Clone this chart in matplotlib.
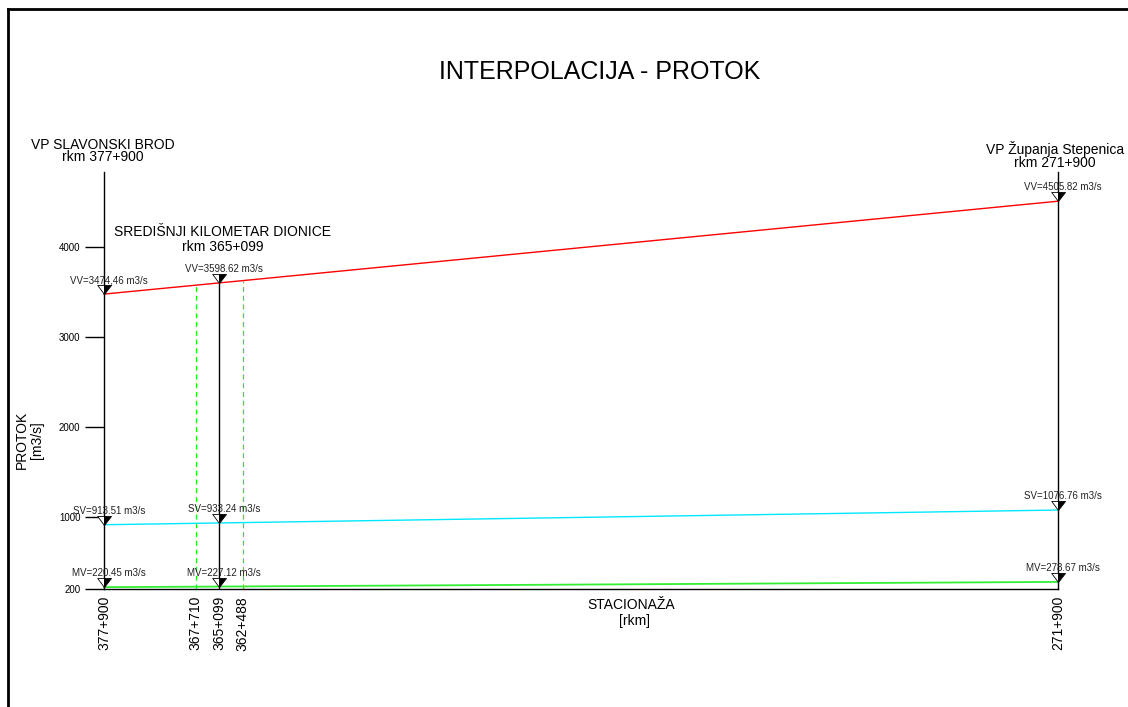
import numpy as np
import matplotlib.pyplot as plt
from matplotlib.path import Path
from matplotlib.lines import Line2D

plt.rcParams['font.family'] = ['Liberation Sans', 'DejaVu Sans']

# stations (rkm) and discharges (m3/s)
stations = [377.900, 365.099, 271.900]
vv = [3474.46, 3598.62, 4505.82]
sv = [913.51, 933.24, 1076.76]
mv = [220.45, 227.12, 278.67]
vv_labels = ['VV=3474,46 m3/s', 'VV=3598.62 m3/s', 'VV=4505.82 m3/s']
sv_labels = ['SV=913.51 m3/s', 'SV=933.24 m3/s', 'SV=1076.76 m3/s']
mv_labels = ['MV=220.45 m3/s', 'MV=227.12 m3/s', 'MV=278.67 m3/s']

# section bounds around central km (green dashed) and where they meet VV line
bounds = [367.710, 362.488]
bounds_top = [3575.0, 3620.0]

xtick_pos = [377.900, 367.710, 365.099, 362.488, 271.900]
xtick_lab = ['377+900', '367+710', '365+099', '362+488', '271+900']
yticks = [200, 1000, 2000, 3000, 4000]

W, H = 1128, 707
fig = plt.figure(figsize=(W / 100, H / 100), dpi=100)
ax = fig.add_axes([104 / W, 118 / H, 954 / W, 417 / H])
ax.set_xlim(377.9, 271.9)
ax.set_ylim(200, 4830)

ax.spines['top'].set_visible(False)
for s in ['left', 'right', 'bottom']:
    ax.spines[s].set_linewidth(1.0)
    ax.spines[s].set_color('black')

ax.set_yticks(yticks)
ax.set_yticklabels([str(v) for v in yticks], fontsize=7)
ax.tick_params(axis='y', direction='out', length=14, width=1, pad=3)
ax.set_xticks(xtick_pos)
ax.set_xticklabels(xtick_lab, rotation=90, fontsize=10, va='top')
ax.tick_params(axis='x', length=0, pad=5)

# verticals
ax.plot([stations[1], stations[1]], [200, vv[1]], color='black', lw=1)
for b, t in zip(bounds, bounds_top):
    ax.plot([b, b], [200, t], color='#22ee22', lw=0.9, ls=(0, (4, 3)))

# interpolation lines
ax.plot(stations, vv, color='#ff0000', lw=1, clip_on=False)
ax.plot(stations, sv, color='#00e8ff', lw=1, clip_on=False)
ax.plot(stations, mv, color='#33ee33', lw=1.3, clip_on=False)

# half-filled inverted triangle markers (tip at point)
left_half = Path([(0, 0), (-0.75, 1), (0, 1), (0, 0)],
                 [Path.MOVETO, Path.LINETO, Path.LINETO, Path.CLOSEPOLY])
right_half = Path([(0, 0), (0, 1), (0.75, 1), (0, 0)],
                  [Path.MOVETO, Path.LINETO, Path.LINETO, Path.CLOSEPOLY])
for vals, labs in [(vv, vv_labels), (sv, sv_labels), (mv, mv_labels)]:
    ax.plot(stations, vals, ls='none', marker=left_half, ms=13, mfc='white',
            mec='black', mew=0.6, clip_on=False, zorder=4)
    ax.plot(stations, vals, ls='none', marker=right_half, ms=13, mfc='black',
            mec='black', mew=0.6, clip_on=False, zorder=4)
    for x, y, lab in zip(stations, vals, labs):
        ax.annotate(lab, (x, y), xytext=(5, 14), textcoords='offset pixels',
                    ha='center', va='center', fontsize=7, color='#222222',
                    annotation_clip=False)

# station headers
def ftext(x, y, s, size, **kw):
    fig.text(x / W, 1 - y / H, s, ha='center', va='center', fontsize=size, **kw)

ftext(600, 72, 'INTERPOLACIJA - PROTOK', 18)
ftext(103, 145, 'VP SLAVONSKI BROD', 10)
ftext(103, 157, 'rkm 377+900', 10)
ftext(1055, 149, 'VP Županja Stepenica', 10)
ftext(1055, 163, 'rkm 271+900', 10)
ftext(223, 232, 'SREDIŠNJI KILOMETAR DIONICE', 10)
ftext(223, 247, 'rkm 365+099', 10)
ftext(631, 605, 'STACIONAŽA', 10)
ftext(634, 621, '[rkm]', 10)
ftext(22, 440, 'PROTOK', 10, rotation=90)
ftext(37, 440, '[m3/s]', 10, rotation=90)

# drawing frame
fig.add_artist(Line2D([8 / W, 1], [1 - 9 / H, 1 - 9 / H], color='black', lw=2))
fig.add_artist(Line2D([8 / W, 8 / W], [0, 1 - 9 / H], color='black', lw=2))

fig.savefig('out.png', dpi=100)
plt.close(fig)
